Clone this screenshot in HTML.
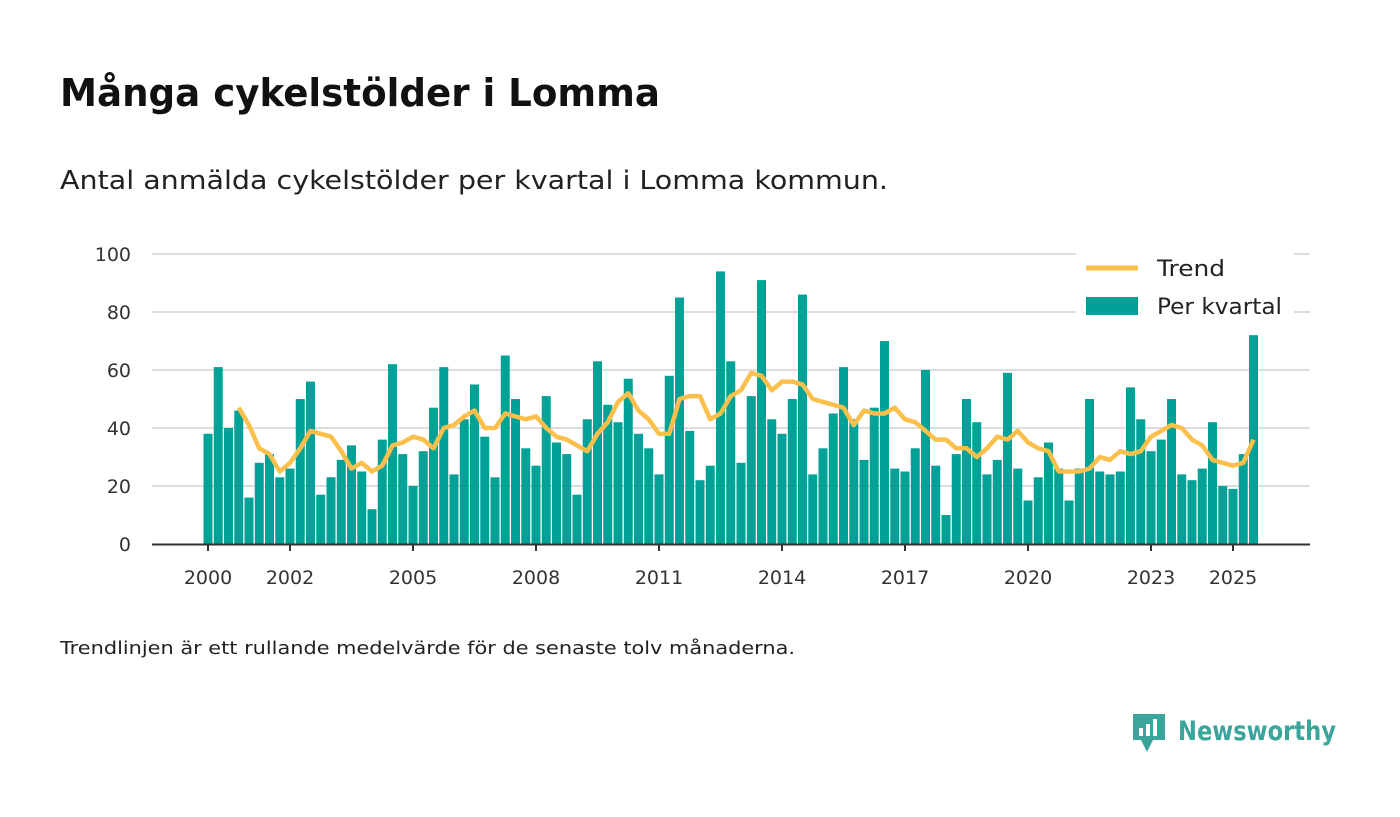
<!DOCTYPE html>
<html><head><meta charset="utf-8"><style>
body{margin:0;width:1400px;height:813px;background:#fff;font-family:"DejaVu Sans","Liberation Sans",sans-serif;overflow:hidden}
</style></head><body>
<svg width="1400" height="813">
<text x="60" y="106" font-size="38" font-weight="bold" fill="#111" textLength="600" lengthAdjust="spacingAndGlyphs">Många cykelstölder i Lomma</text>
<text x="60" y="189" font-size="26" fill="#222" textLength="828" lengthAdjust="spacingAndGlyphs">Antal anmälda cykelstölder per kvartal i Lomma kommun.</text>
<g id="grid"></g>
<g id="bars"></g>
<g id="trend"></g>
<g id="axes"></g>
<g>
<rect x="1076" y="248" width="218" height="80" fill="#fff"/>
<line x1="1086" y1="268" x2="1138" y2="268" stroke="#fbc04c" stroke-width="5"/>
<text x="1157" y="276" font-size="22" fill="#222" textLength="68" lengthAdjust="spacingAndGlyphs">Trend</text>
<rect x="1086" y="297" width="52" height="18" fill="#00a196"/>
<text x="1157" y="314" font-size="22" fill="#222" textLength="125" lengthAdjust="spacingAndGlyphs">Per kvartal</text>
</g>
<text x="60" y="654" font-size="18" fill="#222" textLength="735" lengthAdjust="spacingAndGlyphs">Trendlinjen är ett rullande medelvärde för de senaste tolv månaderna.</text>
<g>
<path d="M1133 714h32v26h-12l-6 12l-6-12h-8z" fill="#3aa59a"/>
<rect x="1139" y="728" width="4" height="8" fill="#fff"/><rect x="1146" y="724" width="4" height="12" fill="#fff"/><rect x="1153" y="719" width="4" height="17" fill="#fff"/>
<text x="1178" y="740" font-size="27" font-weight="bold" fill="#3aa59a" textLength="158" lengthAdjust="spacingAndGlyphs">Newsworthy</text>
</g>
</svg>
<script>
const values=[38,61,40,46,16,28,31,23,26,50,56,17,23,29,34,25,12,36,62,31,20,32,47,61,24,43,55,37,23,65,50,33,27,51,35,31,17,43,63,48,42,57,38,33,24,58,85,39,22,27,94,63,28,51,91,43,38,50,86,24,33,45,61,43,29,47,70,26,25,33,60,27,10,31,50,42,24,29,59,26,15,23,35,26,15,26,50,25,24,25,54,43,32,36,50,24,22,26,42,20,19,31,72];
const trend=[47,41,33,31,25,28,33,39,38,37,32,26,28,25,27,34,35,37,36,33,40,41,44,46,40,40,45,44,43,44,40,37,36,34,32,38,42,49,52,46,43,38,38,50,51,51,43,45,51,53,59,58,53,56,56,55,50,49,48,47,41,46,45,45,47,43,42,39,36,36,33,33,30,33,37,36,39,35,33,32,25,25,25,26,30,29,32,31,32,37,39,41,40,36,34,29,28,27,28,36];
const trendStart=3;
const yTicks=[0,20,40,60,80,100];
const xYears=[2000,2002,2005,2008,2011,2014,2017,2020,2023,2025];
const NS="http://www.w3.org/2000/svg";
const y=v=>544-v*2.9;
const xi=i=>208+i*10.25;
const xy=yr=>208+(yr-2000)*41;
function mk(t,a,p){const e=document.createElementNS(NS,t);for(const k in a)e.setAttribute(k,a[k]);p.appendChild(e);return e;}
const grid=document.getElementById('grid'),bars=document.getElementById('bars'),axes=document.getElementById('axes'),tr=document.getElementById('trend');
yTicks.forEach(v=>{
 if(v>0){const l=mk('line',{x1:152,x2:1310,y1:y(v),y2:y(v),stroke:'#ddd','stroke-width':2},grid);
 
 }
 const t=mk('text',{x:131,y:y(v)+7,'font-size':19,fill:'#333','text-anchor':'end'},axes);t.textContent=v;
 
 
});
values.forEach((v,i)=>{
 const r=mk('rect',{x:xi(i)-4.5,y:y(v),width:9,height:v*2.9,fill:'#00a196'},bars);
 
 
});
const pts=trend.map((v,k)=>xi(k+trendStart)+','+y(v)).join(' ');
const pl=mk('polyline',{points:pts,fill:'none',stroke:'#fbc04c','stroke-width':4.5,'stroke-linejoin':'round'},tr);


const ax=mk('line',{x1:152,x2:1310,y1:544.5,y2:544.5,stroke:'#333','stroke-width':2},axes);


xYears.forEach(yr=>{
 const tk=mk('line',{x1:xy(yr),x2:xy(yr),y1:545,y2:551,stroke:'#333','stroke-width':2},axes);
 
 
 const t=mk('text',{x:xy(yr),y:584,'font-size':19,fill:'#333','text-anchor':'middle'},axes);t.textContent=yr;
 
 
});
</script>
</body></html>
